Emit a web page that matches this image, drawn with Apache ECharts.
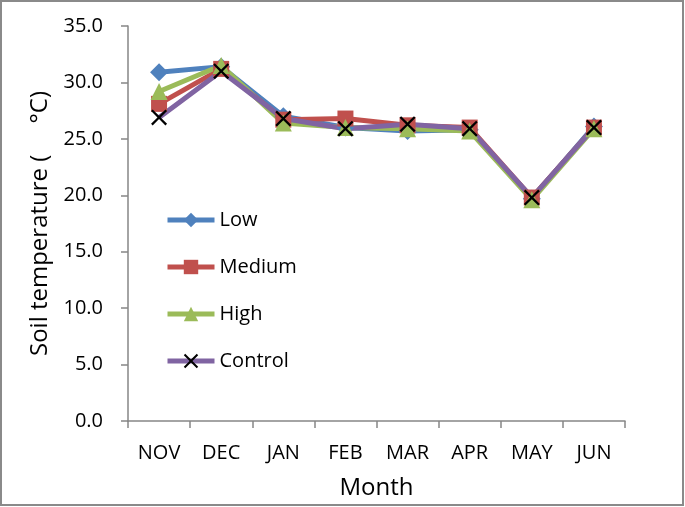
<!DOCTYPE html>
<html><head><meta charset="utf-8">
<script src="https://cdn.jsdelivr.net/npm/echarts@6/dist/echarts.min.js"></script>
<style>html,body{margin:0;padding:0;background:#fff}#c{width:685px;height:507px}</style>
</head><body><div id="c"></div>
<script>
var months = ['NOV','DEC','JAN','FEB','MAR','APR','MAY','JUN'];
var yTicks = [0,5,10,15,20,25,30,35];
var low     = [30.9, 31.4, 27.0, 26.0, 25.7, 25.8, 19.7, 26.1];
var medium  = [28.1, 31.2, 26.7, 26.8, 26.2, 26.0, 19.8, 26.0];
var high    = [29.2, 31.5, 26.4, 26.0, 25.9, 25.7, 19.6, 25.9];
var control = [26.9, 31.0, 26.8, 25.9, 26.3, 25.9, 19.8, 26.0];

var FONT = 'Open Sans';
var xPath = 'path://M0,1L1,0L5,4L9,0L10,1L6,5L10,9L9,10L5,6L1,10L0,9L4,5Z';
function mk(name, data, color, symbol, size, mcolor) {
  return {
    name: name, type: 'line', data: data, symbol: symbol, symbolSize: size,
    lineStyle: {color: color, width: 5},
    itemStyle: {color: mcolor || color},
    emphasis: {disabled: true}, animation: false
  };
}
var chart = echarts.init(document.getElementById('c'));
chart.setOption({
  animation: false,
  textStyle: {fontFamily: FONT},
  grid: {left: 128, right: 60, top: 26, bottom: 86, containLabel: false},
  graphic: [{type: 'rect', shape: {x: 1, y: 1, width: 682, height: 504},
    style: {fill: 'none', stroke: '#8a8a8a', lineWidth: 2}, silent: true}],
  legend: {
    orient: 'vertical', left: 160, top: 205, itemGap: 27,
    itemWidth: 47, itemHeight: 18,
    lineStyle: {width: 5},
    textStyle: {fontFamily: FONT, fontSize: 20, color: '#000'},
    data: ['Low','Medium','High','Control']
  },
  xAxis: {
    type: 'category', data: months, boundaryGap: true,
    name: 'Month', nameLocation: 'middle', nameGap: 55, nameMoveOverlap: false,
    nameTextStyle: {fontFamily: FONT, fontSize: 24, color: '#000'},
    axisLine: {lineStyle: {color: '#868686', width: 1.5}},
    axisTick: {show: true, length: 7, lineStyle: {color: '#868686', width: 1.5}},
    axisLabel: {fontFamily: FONT, fontSize: 20, color: '#000', margin: 22},
    splitLine: {show: false}
  },
  yAxis: {
    type: 'value', min: 0, max: 35, interval: 5,
    name: 'Soil temperature (     °C)', nameLocation: 'middle', nameGap: 76, nameMoveOverlap: false,
    nameTextStyle: {fontFamily: FONT, fontSize: 24, color: '#000'},
    axisLine: {show: true, lineStyle: {color: '#868686', width: 1.5}},
    axisTick: {show: true, length: 7, lineStyle: {color: '#868686', width: 1.5}},
    axisLabel: {fontFamily: FONT, fontSize: 20, color: '#000', margin: 25,
      formatter: function (v) { return yTicks.indexOf(v) >= 0 ? v.toFixed(1) : ''; }},
    splitLine: {show: false}
  },
  series: [
    mk('Low', low, '#4F81BD', 'diamond', 18),
    mk('Medium', medium, '#C0504D', 'rect', 16),
    mk('High', high, '#9BBB59', 'triangle', 17),
    mk('Control', control, '#8064A2', xPath, 16, '#000')
  ]
});
</script></body></html>
